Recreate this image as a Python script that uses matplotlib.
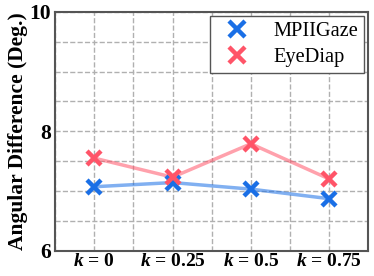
import matplotlib.pyplot as plt
import numpy as np

# values
k_labels = ['0', '0.25', '0.5', '0.75']
mpii = [7.07, 7.14, 7.03, 6.87]
eyediap = [7.55, 7.23, 7.79, 7.20]

plt.rcParams['font.family'] = 'Liberation Serif'
plt.rcParams['mathtext.fontset'] = 'custom'
plt.rcParams['mathtext.it'] = 'Liberation Serif:italic:bold'
plt.rcParams['mathtext.rm'] = 'Liberation Serif:bold'

fig, ax = plt.subplots(figsize=(3.74, 2.76), dpi=100)
fig.subplots_adjust(left=0.147, right=0.985, top=0.957, bottom=0.092)

x = np.arange(len(k_labels))
blue = '#1a6fe6'
red = '#ff5468'

ax.plot(x, mpii, color=blue, linewidth=2.5, alpha=0.55, zorder=2)
ax.plot(x, eyediap, color=red, linewidth=2.5, alpha=0.55, zorder=2)
ax.plot(x, mpii, linestyle='none', marker='x', markersize=10, markeredgewidth=3.2,
        color=blue, label='MPIIGaze', zorder=3)
ax.plot(x, eyediap, linestyle='none', marker='x', markersize=10, markeredgewidth=3.2,
        color=red, label='EyeDiap', zorder=3)

ax.set_xlim(-0.5, 3.5)
ax.set_ylim(6, 10)
ax.set_xticks(x)
ax.set_xticklabels([r'$k$ = ' + s for s in k_labels], fontsize=14, fontweight='bold')
ax.set_xticks(np.arange(-0.5, 3.6, 0.5), minor=True)
ax.set_yticks([6, 8, 10])
ax.set_yticks(np.arange(6, 10.01, 0.5), minor=True)
ax.set_yticklabels(['6', '8', '10'], fontsize=15.5, fontweight='bold')
ax.tick_params(which='both', length=0)
ax.tick_params(axis='x', pad=2)
ax.tick_params(axis='y', pad=3)
ax.grid(True, which='both', linestyle='--', color='#b0b0b0', linewidth=1)
ax.set_axisbelow(True)
for s in ax.spines.values():
    s.set_color('#555555')
    s.set_linewidth(1.5)

ax.set_ylabel('Angular Difference (Deg.)', fontsize=15.5, fontweight='bold', labelpad=1)

leg = ax.legend(loc='upper right', fontsize=14.7, fancybox=False, framealpha=1,
                edgecolor='#555555', borderaxespad=0.2, handletextpad=0.8,
                borderpad=0.3, labelspacing=0.3, markerscale=1.15)
leg.get_frame().set_linewidth(1)

plt.savefig('out.png', dpi=100)
plt.close()
